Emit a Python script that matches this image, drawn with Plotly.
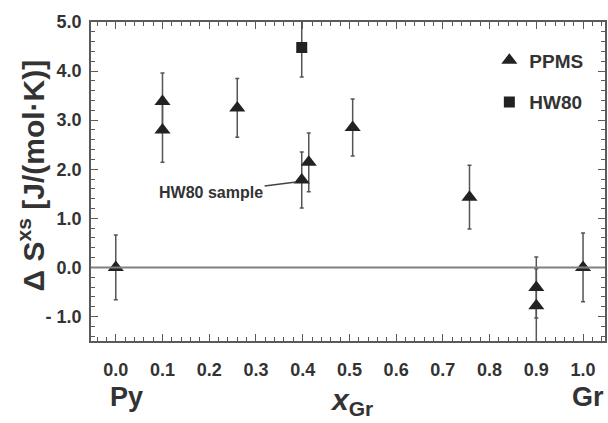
import plotly.graph_objects as go

# PPMS data
ppms_x = [0.0, 0.1, 0.1, 0.26, 0.398, 0.413, 0.507, 0.757, 0.9, 0.9, 1.0]
ppms_y = [0.0, 3.38, 2.80, 3.25, 1.78, 2.14, 2.85, 1.43, -0.41, -0.78, 0.0]
ppms_err = [0.66, 0.58, 0.66, 0.60, 0.57, 0.60, 0.58, 0.65, 0.62, 0.75, 0.70]

# HW80 data
hw_x = [0.398]
hw_y = [4.48]
hw_err = [0.60]

xticks = [0.0, 0.1, 0.2, 0.3, 0.4, 0.5, 0.6, 0.7, 0.8, 0.9, 1.0]
xticklabels = ["0.0", "0.1", "0.2", "0.3", "0.4", "0.5", "0.6", "0.7", "0.8", "0.9", "1.0"]
yticks = [-1.0, 0.0, 1.0, 2.0, 3.0, 4.0, 5.0]
yticklabels = ["- 1.0", "0.0", "1.0", "2.0", "3.0", "4.0", "5.0"]

FONT = "Liberation Sans, Arial, sans-serif"
TXT = "#333333"
AX = "#5a5a5a"

fig = go.Figure()

fig.add_hline(y=0, line=dict(color="#808080", width=2))

fig.add_trace(go.Scatter(
    x=ppms_x, y=ppms_y, mode="markers", name="PPMS", legendgroup="a",
    marker=dict(symbol="triangle-up", size=14, color="#222222"),
    error_y=dict(type="data", array=ppms_err, color="#555555", thickness=1.5, width=2),
))
fig.add_trace(go.Scatter(
    x=hw_x, y=hw_y, mode="markers", name="HW80", legendgroup="b",
    marker=dict(symbol="square", size=11, color="#222222"),
    error_y=dict(type="data", array=hw_err, color="#555555", thickness=1.5, width=2),
))

axis_common = dict(
    showline=True, linecolor=AX, linewidth=1.5, mirror="ticks",
    ticks="inside", ticklen=7, tickwidth=1.2, tickcolor=AX,
    showgrid=False, zeroline=False,
    tickfont=dict(family=FONT, size=18, color=TXT, weight="bold"),
)

fig.update_xaxes(
    range=[-0.053, 1.047], tickvals=xticks, ticktext=xticklabels,
    minor=dict(ticks="inside", ticklen=4, tickcolor=AX, dtick=0.02, tickwidth=1),
    ticklabelstandoff=12,
    **axis_common,
)
fig.update_yaxes(
    range=[-1.5, 5.0], tickvals=yticks, ticktext=yticklabels,
    minor=dict(ticks="inside", ticklen=4, tickcolor=AX, dtick=0.2, tickwidth=1),
    ticklabelstandoff=4,
    **axis_common,
)

# y-axis title
fig.add_annotation(
    x=(31 - 91) / 516, y=(340.7 - 175) / 318.7, xref="paper", yref="paper",
    text="Δ S<sup>xs</sup> [J/(mol·K)]", textangle=-90, showarrow=False,
    xanchor="center", yanchor="middle",
    font=dict(family=FONT, size=30, color=TXT, weight="bold"),
)

fig.add_annotation(
    x=0.386, y=1.74, xref="x", yref="y", text="HW80 sample",
    showarrow=True, arrowhead=0, arrowwidth=1.5, arrowcolor="#444444",
    ax=-85, ay=11, standoff=0,
    font=dict(family=FONT, size=16, color=TXT, weight="bold"),
)

for txt, xp in [("Py", 127), ("Gr", 590)]:
    fig.add_annotation(
        x=(xp - 91) / 516, y=(340.7 - 397) / 318.7, xref="paper", yref="paper",
        text=txt, showarrow=False, xanchor="center", yanchor="middle",
        font=dict(family=FONT, size=27, color=TXT, weight="bold"),
    )
fig.add_annotation(
    x=(353 - 91) / 516, y=(340.7 - 401) / 318.7, xref="paper", yref="paper",
    text="<i>x</i><sub>Gr</sub>", showarrow=False, xanchor="center", yanchor="middle",
    font=dict(family=FONT, size=30, color=TXT, weight="bold"),
)

fig.update_layout(
    width=608, height=423,
    margin=dict(l=91, r=1, t=22, b=82),
    plot_bgcolor="white", paper_bgcolor="white",
    showlegend=True,
    legend=dict(
        x=0.775, y=0.939, xanchor="left", yanchor="top",
        bgcolor="rgba(0,0,0,0)", itemwidth=30, tracegroupgap=14,
        font=dict(family=FONT, size=19, color=TXT, weight="bold"),
    ),
)

fig.write_html("out.html")
